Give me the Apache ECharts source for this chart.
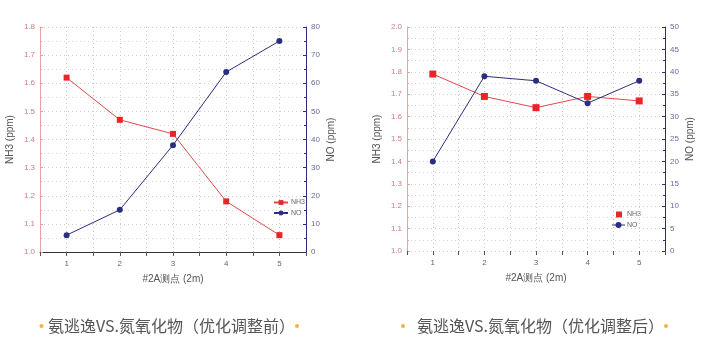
<!DOCTYPE html>
<html><head><meta charset="utf-8">
<script src="https://cdn.jsdelivr.net/npm/echarts@6/dist/echarts.min.js"></script>
<style>html,body{margin:0;padding:0;background:#fff}#c{width:718px;height:362px}</style>
</head><body><div id="c"></div>
<script>
const categories = ['1', '2', '3', '4', '5'];
const nh3Before = [1.62, 1.47, 1.42, 1.18, 1.06];
const noBefore = [6, 15, 38, 64, 75];
const nh3After = [1.79, 1.69, 1.64, 1.69, 1.67];
const noAfter = [20, 39, 38, 33, 38];
const xName = '#2A测点 (2m)';
const nh3Name = 'NH3 (ppm)';
const noName = 'NO (ppm)';
const caption1 = '氨逃逸VS.氮氧化物（优化调整前）';
const caption2 = '氨逃逸VS.氮氧化物（优化调整后）';

const RED = '#e8262a', REDLINE = '#e5484b', NAVY = '#2b2e80';
const FONT = 'Liberation Sans';
const pts = arr => arr.map((v, i) => [i + 1, v]);
const grid1 = {left: 40, top: 27, width: 266, height: 225};
const grid2 = {left: 407, top: 27, width: 258, height: 224};

function xAxis(gi, showLine) {
  return {
    type: 'value', gridIndex: gi, min: 0.5, max: 5.5, interval: 0.5,
    name: xName, nameLocation: 'middle', nameGap: 22,
    nameTextStyle: {fontFamily: FONT, fontSize: 10, color: '#555'},
    axisLine: {show: showLine, onZero: false, lineStyle: {color: '#333', width: 1}},
    axisTick: {show: true, inside: false, length: 4, lineStyle: {color: '#555'}},
    axisLabel: {fontFamily: FONT, fontSize: 8, color: '#666', margin: 8,
      formatter: v => Number.isInteger(v) ? categories[v - 1] : ''},
    splitLine: {show: true, lineStyle: {color: '#c8c8c8', type: [1, 3]}}
  };
}
function yAxis(gi, pos, min, max, interval, name, color, labelColor, dec) {
  return {
    type: 'value', gridIndex: gi, position: pos, min: min, max: max, interval: interval,
    name: name, nameLocation: 'middle', nameGap: pos === 'left' ? 25 : 20, nameRotate: 90,
    nameTextStyle: {fontFamily: FONT, fontSize: 10, color: '#555'},
    axisLine: {show: true, lineStyle: {color: color, width: 1}},
    axisTick: {show: true, inside: true, length: 3, lineStyle: {color: color}},
    minorTick: {show: true, splitNumber: 2, length: 2, lineStyle: {color: color}},
    axisLabel: {fontFamily: FONT, fontSize: 8, color: labelColor, margin: 5,
      formatter: v => dec ? v.toFixed(1) : String(Math.round(v))},
    splitLine: {show: pos === 'left', lineStyle: {color: '#d0d0d0', type: [1, 3]}},
    minorSplitLine: {show: pos === 'left', lineStyle: {color: '#d8d8d8', type: [1, 3]}}
  };
}
function legend(name, left, top, icon, w) {
  return {data: [{name: name, icon: icon}], orient: 'vertical', left: left, top: top,
    itemWidth: w, itemHeight: 6, itemGap: 2, padding: 0, selectedMode: false,
    textStyle: {fontFamily: FONT, fontSize: 7, color: '#666', padding: [0, 0, 0, -2]}};
}
function cap(text, x, y, dotL, dotR) {
  return [
    {type: 'circle', shape: {cx: dotL, cy: y, r: 2}, style: {fill: '#f2b43c'}},
    {type: 'text', x: x, y: y, style: {text: text, fontFamily: 'Noto Sans CJK SC', fontSize: 16,
      fill: '#555', verticalAlign: 'middle', align: 'left'}},
    {type: 'circle', shape: {cx: dotR, cy: y, r: 2}, style: {fill: '#f2b43c'}}
  ];
}

const chart = echarts.init(document.getElementById('c'));
chart.setOption({
  animation: false,
  backgroundColor: '#fff',
  grid: [grid1, grid2],
  xAxis: [xAxis(0, true), xAxis(1, false)],
  yAxis: [
    yAxis(0, 'left', 1.0, 1.8, 0.1, nh3Name, '#eaa0a0', '#c98080', true),
    yAxis(0, 'right', 0, 80, 10, noName, NAVY, '#6a6a98', false),
    yAxis(1, 'left', 1.0, 2.0, 0.1, nh3Name, '#eaa0a0', '#c98080', true),
    yAxis(1, 'right', 0, 50, 5, noName, NAVY, '#6a6a98', false)
  ],
  legend: [
    legend('NH3', 273, 199, undefined, 14),
    legend('NO', 273, 209.5, undefined, 14),
  ],
  series: [
    {name: 'NH3', type: 'line', xAxisIndex: 0, yAxisIndex: 0, data: pts(nh3Before),
      symbol: 'rect', symbolSize: 6, itemStyle: {color: RED}, lineStyle: {color: REDLINE, width: 1}},
    {name: 'NO', type: 'line', xAxisIndex: 0, yAxisIndex: 1, data: pts(noBefore),
      symbol: 'circle', symbolSize: 6, itemStyle: {color: NAVY}, lineStyle: {color: NAVY, width: 1}},
    {name: 'NH3', type: 'line', xAxisIndex: 1, yAxisIndex: 2, data: pts(nh3After),
      symbol: 'rect', symbolSize: 7, itemStyle: {color: RED}, lineStyle: {color: REDLINE, width: 1}},
    {name: 'NO', type: 'line', xAxisIndex: 1, yAxisIndex: 3, data: pts(noAfter),
      symbol: 'circle', symbolSize: 6, itemStyle: {color: NAVY}, lineStyle: {color: NAVY, width: 1}}
  ],
  graphic: [
    ...cap(caption1, 48, 326, 41.5, 297),
    ...cap(caption2, 417, 326, 403, 666),
    // right-chart legend (NH3 square only, NO line+dot)
    {type: 'rect', shape: {x: 616, y: 211.5, width: 6, height: 6}, style: {fill: RED}},
    {type: 'text', x: 627, y: 214.5, style: {text: 'NH3', fontFamily: FONT, fontSize: 7, fill: '#666', verticalAlign: 'middle'}},
    {type: 'line', shape: {x1: 612, y1: 225, x2: 625, y2: 225}, style: {stroke: NAVY, lineWidth: 1}},
    {type: 'circle', shape: {cx: 618.5, cy: 225, r: 3}, style: {fill: NAVY}},
    {type: 'text', x: 627, y: 225, style: {text: 'NO', fontFamily: FONT, fontSize: 7, fill: '#666', verticalAlign: 'middle'}}
  ]
});
</script></body></html>
